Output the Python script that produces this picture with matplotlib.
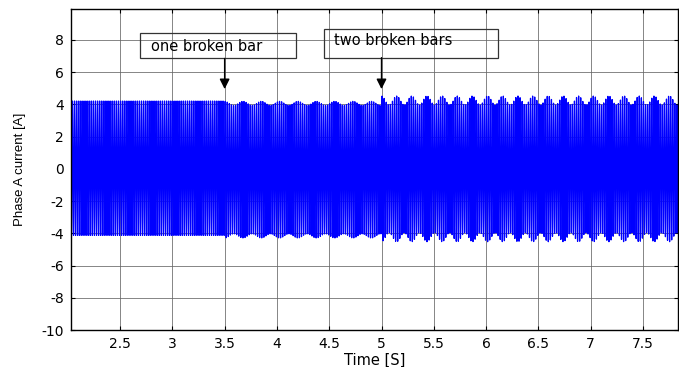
import numpy as np
import matplotlib
matplotlib.use("Agg")
import matplotlib.pyplot as plt
from matplotlib.patches import Rectangle

plt.rcParams["axes.unicode_minus"] = False
plt.rcParams["path.simplify"] = False

# ---- data ----
# signal segments: healthy, one broken bar, two broken bars
seg_start = [2.03, 3.5, 5.0]
seg_end = [3.5, 5.0, 7.84]
seg_amp = [4.17, 4.11, 4.24]        # mean peak amplitude [A]
seg_mod_depth = [0.0, 0.13, 0.28]   # envelope modulation depth [A]
seg_mod_freq = [0.0, 5.7, 6.9]      # envelope (2sf) frequency [Hz]
seg_offset = [0.04, -0.05, 0.0]
supply_freq = 50.0                  # Hz
sample_rate = 2000.0                # Hz

x_ticks = [2.5, 3, 3.5, 4, 4.5, 5, 5.5, 6, 6.5, 7, 7.5]
y_ticks = [-10, -8, -6, -4, -2, 0, 2, 4, 6, 8]

labels = ["one broken bar", "two broken bars"]
arrow_x = [3.5, 5.0]

# ---- build waveform ----
ts, ys = [], []
for s, e, a, m, fm, off in zip(seg_start, seg_end, seg_amp, seg_mod_depth,
                               seg_mod_freq, seg_offset):
    t = np.arange(s, e, 1.0 / sample_rate)
    env = a + m * np.cos(2 * np.pi * fm * (t - s))
    ys.append(off + env * np.sin(2 * np.pi * supply_freq * t))
    ts.append(t)
t = np.concatenate(ts)
y = np.concatenate(ys)

fig = plt.figure(figsize=(6.79, 3.67), dpi=100)
ax = fig.add_axes([70.7 / 679, 37 / 367, (678.5 - 70.7) / 679, (330 - 9) / 367])

ax.plot(t, y, color=(0, 0, 1), lw=0.9, zorder=2)

ax.set_xlim(2.028, 7.84)
ax.set_ylim(-10, 9.92)
ax.set_xticks(x_ticks)
ax.set_xticklabels([f"{v:g}" for v in x_ticks])
ax.set_yticks(y_ticks)
ax.grid(True, color="#666666", lw=0.7, alpha=0.8, zorder=1)
ax.set_axisbelow(True)
ax.tick_params(direction="in", top=True, right=True, length=3,
               labelsize=10, pad=5)
for lab in ax.get_xticklabels() + ax.get_yticklabels():
    lab.set_fontfamily("DejaVu Sans")
for sp in ax.spines.values():
    sp.set_linewidth(1.0)
    sp.set_zorder(4)

ax.set_xlabel("Time [S]", fontsize=10.5, family="DejaVu Sans", labelpad=1)
ax.set_ylabel("Phase A current [A]", fontsize=9.5, family="Liberation Sans", labelpad=11)

# annotation boxes
box_specs = [(2.692, 6.85, 4.186 - 2.692, 8.45 - 6.85, 7.62),
             (4.447, 6.90, 6.118 - 4.447, 8.70 - 6.90, 7.95)]
for (bx, by, bw, bh, ty), txt, axx in zip(box_specs, labels, arrow_x):
    ax.add_patch(Rectangle((bx, by), bw, bh, fill=False, ec="#333333",
                           lw=0.9, zorder=5))
    ax.text(bx + 0.1, ty, txt, ha="left", va="center", fontsize=10.5,
            family="DejaVu Sans", zorder=6)
    ax.annotate("", xy=(axx, 4.95), xytext=(axx, by),
                arrowprops=dict(arrowstyle="-|>,head_length=0.6,head_width=0.3",
                                color="black", lw=1.0, shrinkA=0, shrinkB=0),
                zorder=6)

fig.savefig("out.png", dpi=100)
